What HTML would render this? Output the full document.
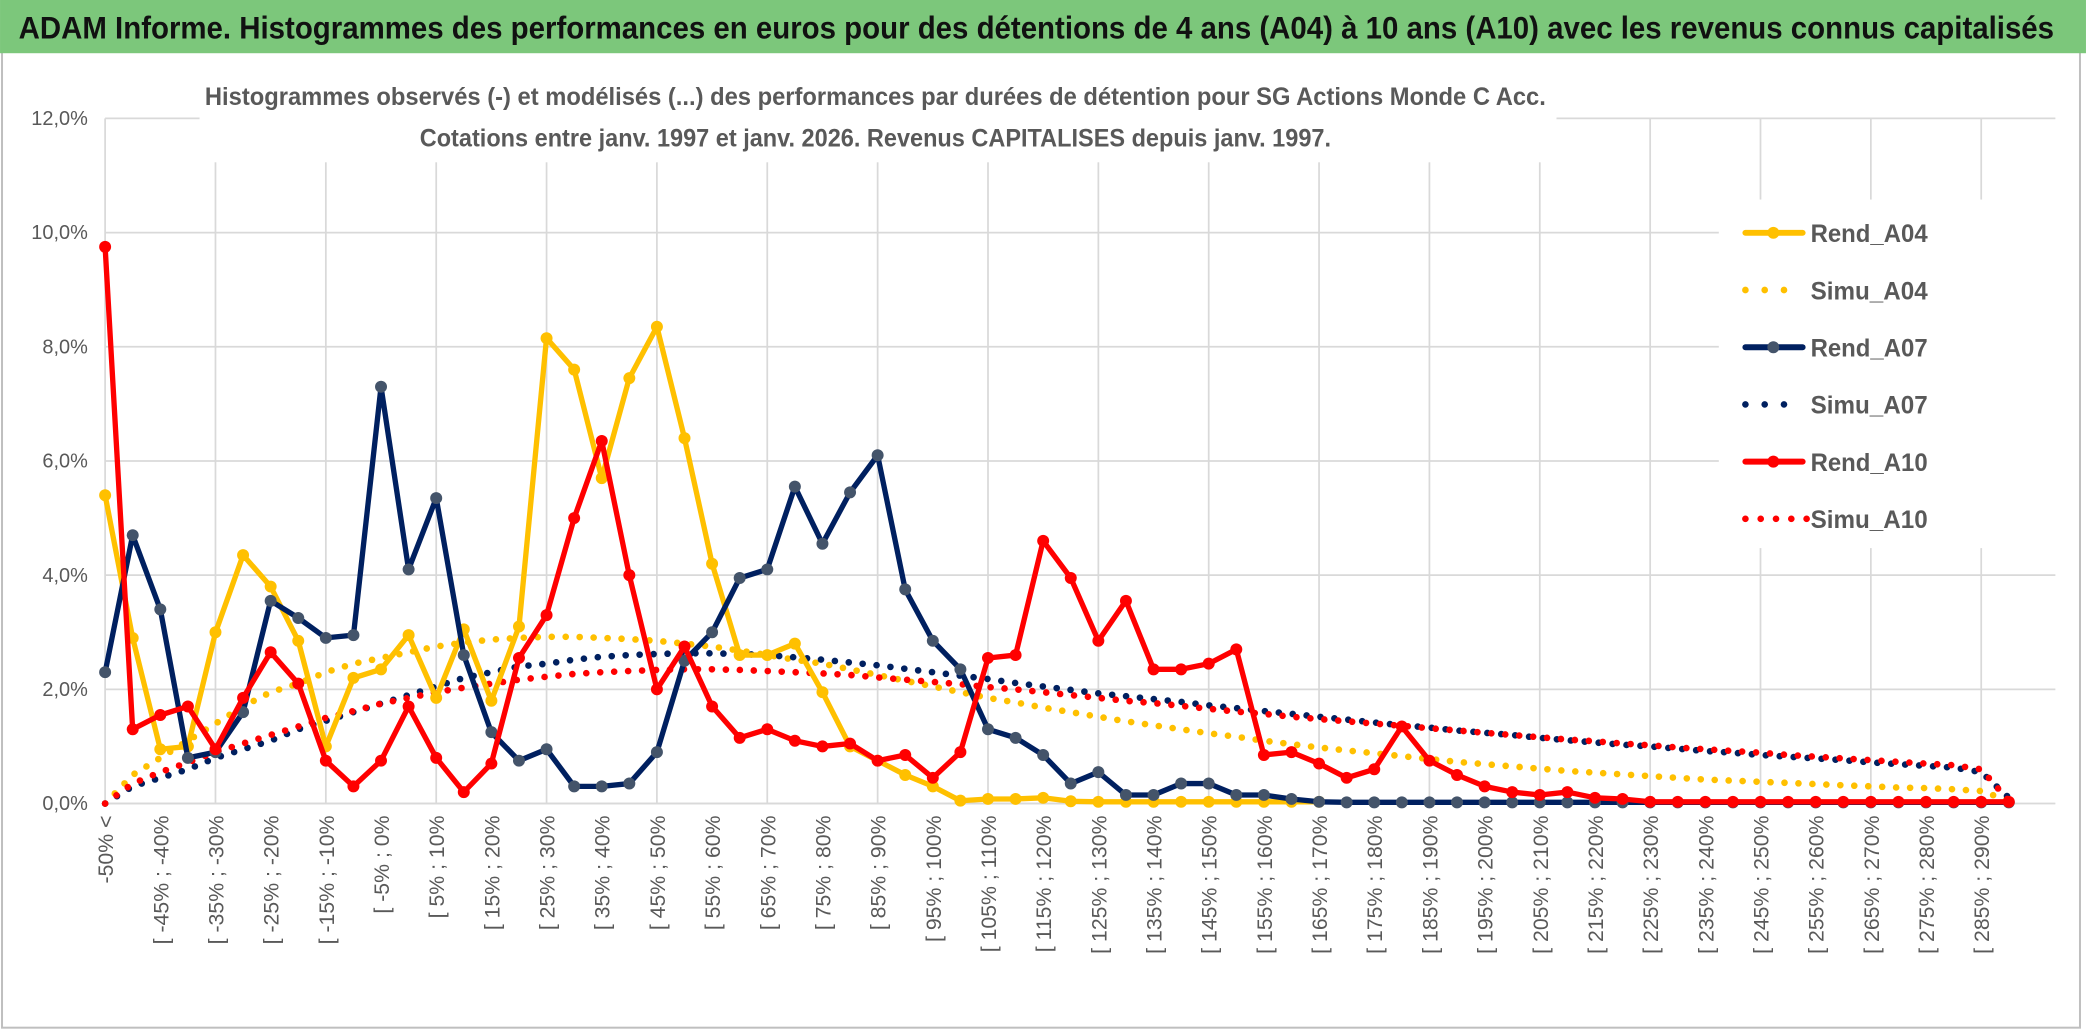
<!DOCTYPE html>
<html><head><meta charset="utf-8"><style>
html,body{margin:0;padding:0;background:#fff;}
svg{display:block;}
text{font-family:"Liberation Sans",sans-serif;}
</style></head><body>
<svg id="chart" width="2086" height="1031" viewBox="0 0 1568 775" xmlns="http://www.w3.org/2000/svg">
<rect x="0" y="0" width="1568" height="775" fill="#fff"/>
<rect x="1.5" y="1.5" width="1562" height="771" fill="none" stroke="#bfbfbf" stroke-width="1.5"/>
<rect x="0" y="0" width="1568" height="40" fill="#7cc77b"/>
<text x="14" y="29" font-size="24" font-weight="bold" fill="#111" textLength="1530" lengthAdjust="spacingAndGlyphs">ADAM Informe. Histogrammes des performances en euros pour des détentions de 4 ans (A04) à 10 ans (A10) avec les revenus connus capitalisés</text>
<g id="grid"></g>
<g id="yaxis"></g>
<g id="xaxis"></g>
<rect x="150" y="52" width="1020" height="70" fill="#fff"/>
<text x="658" y="79" font-size="19" font-weight="bold" fill="#595959" text-anchor="middle" textLength="1008" lengthAdjust="spacingAndGlyphs">Histogrammes observés (-) et modélisés (...) des performances par durées de détention pour SG Actions Monde C Acc.</text>
<text x="658" y="110" font-size="19" font-weight="bold" fill="#595959" text-anchor="middle" textLength="685" lengthAdjust="spacingAndGlyphs">Cotations entre janv. 1997 et janv. 2026. Revenus CAPITALISES depuis janv. 1997.</text>
<g id="series"></g>
<g id="legend"></g>
</svg>
<script>
const categories = ["-50% <"];
for (let k = 1; k <= 69; k++) { const a = -55 + 5*k; categories.push("[ " + a + "% ; " + (a+5) + "%"); }
const yTicks = [0,2,4,6,8,10,12];
const yTickLabels = ["0,0%","2,0%","4,0%","6,0%","8,0%","10,0%","12,0%"];
const rendA04 = [5.4,2.9,0.95,1.0,3.0,4.35,3.8,2.85,1.0,2.2,2.35,2.95,1.85,3.05,1.8,3.1,8.15,7.6,5.7,7.45,8.35,6.4,4.2,2.6,2.6,2.8,1.95,1.0,0.75,0.5,0.3,0.05,0.08,0.08,0.1,0.04,0.03,0.03,0.03,0.03,0.03,0.03,0.03,0.03,0.03,null,null,null,null,null,null,null,null,null,null,null,null,null,null,null,null,null,null,null,null,null,null,null,null,null];
const simuA04 = [0,0.5,0.8,1.1,1.4,1.7,1.95,2.1,2.3,2.45,2.55,2.65,2.75,2.82,2.87,2.9,2.92,2.92,2.9,2.88,2.85,2.8,2.75,2.68,2.6,2.52,2.45,2.35,2.25,2.15,2.05,1.95,1.85,1.77,1.68,1.6,1.52,1.44,1.37,1.3,1.23,1.17,1.1,1.04,0.98,0.93,0.88,0.83,0.78,0.73,0.69,0.65,0.61,0.57,0.54,0.51,0.48,0.45,0.42,0.4,0.38,0.36,0.34,0.32,0.3,0.28,0.27,0.25,0.22,0.05];
const rendA07 = [2.3,4.7,3.4,0.8,0.9,1.6,3.55,3.25,2.9,2.95,7.3,4.1,5.35,2.6,1.25,0.75,0.95,0.3,0.3,0.35,0.9,2.5,3.0,3.95,4.1,5.55,4.55,5.45,6.1,3.75,2.85,2.35,1.3,1.15,0.85,0.35,0.55,0.15,0.15,0.35,0.35,0.15,0.15,0.08,0.03,0.02,0.02,0.02,0.02,0.02,0.02,0.02,0.02,0.02,0.02,0.02,0.02,0.02,0.02,0.02,0.02,0.02,0.02,0.02,0.02,0.02,0.02,0.02,0.02,0.02];
const simuA07 = [0,0.3,0.45,0.6,0.8,0.95,1.1,1.3,1.45,1.6,1.75,1.9,2.05,2.2,2.3,2.4,2.45,2.52,2.57,2.6,2.62,2.63,2.63,2.62,2.6,2.56,2.52,2.47,2.42,2.36,2.3,2.24,2.18,2.11,2.05,1.99,1.93,1.88,1.83,1.78,1.72,1.67,1.62,1.57,1.52,1.47,1.42,1.37,1.33,1.28,1.24,1.2,1.15,1.11,1.07,1.03,1.0,0.96,0.92,0.89,0.85,0.82,0.79,0.76,0.72,0.69,0.66,0.63,0.55,0.1];
const rendA10 = [9.75,1.3,1.55,1.7,0.95,1.85,2.65,2.1,0.75,0.3,0.75,1.7,0.8,0.2,0.7,2.55,3.3,5.0,6.35,4.0,2.0,2.75,1.7,1.15,1.3,1.1,1.0,1.05,0.75,0.85,0.45,0.9,2.55,2.6,4.6,3.95,2.85,3.55,2.35,2.35,2.45,2.7,0.85,0.9,0.7,0.45,0.6,1.35,0.75,0.5,0.3,0.2,0.15,0.2,0.1,0.08,0.03,0.03,0.03,0.03,0.03,0.03,0.03,0.03,0.03,0.03,0.03,0.03,0.03,0.03];
const simuA10 = [0,0.35,0.55,0.72,0.9,1.05,1.2,1.35,1.5,1.62,1.75,1.85,1.95,2.03,2.1,2.17,2.22,2.27,2.3,2.32,2.34,2.35,2.35,2.34,2.32,2.3,2.28,2.25,2.21,2.17,2.13,2.09,2.04,2.0,1.95,1.9,1.85,1.8,1.76,1.71,1.66,1.61,1.57,1.52,1.48,1.44,1.4,1.36,1.32,1.28,1.24,1.2,1.16,1.12,1.09,1.05,1.02,0.98,0.95,0.92,0.89,0.85,0.82,0.79,0.76,0.73,0.7,0.67,0.6,0.05];

const NS = "http://www.w3.org/2000/svg";
const X0 = 79, X1 = 1510, Y0 = 604, Y12 = 89;
function xs(i){ return X0 + (X1 - X0) * i / (categories.length - 1); }
function ys(v){ return Y0 - (Y0 - Y12) * v / 12; }
function mk(tag, attrs, parent){ const e = document.createElementNS(NS, tag); for (const k in attrs) e.setAttribute(k, attrs[k]); parent.appendChild(e); return e; }

const grid = document.getElementById('grid');
yTicks.forEach((t, i) => {
  const l = mk('line', {x1: X0, x2: 1545, y1: ys(t), y2: ys(t), stroke: '#d9d9d9', 'stroke-width': 1.3}, grid);
  
  
});
for (let i = 0; i <= categories.length - 1; i += 4) {
  const l = mk('line', {x1: xs(i), x2: xs(i), y1: Y12, y2: Y0, stroke: '#d9d9d9', 'stroke-width': 1.3}, grid);
  
  
}
const ya = document.getElementById('yaxis');
yTicks.forEach((t, i) => {
  const tx = mk('text', {x: 66, y: ys(t) + 5, 'font-size': 15, fill: '#595959', 'text-anchor': 'end'}, ya);
  tx.textContent = yTickLabels[i];
  
  
});
const xa = document.getElementById('xaxis');
const axl = mk('line', {x1: X0, x2: X1, y1: Y0, y2: Y0, stroke: '#d9d9d9', 'stroke-width': 1.3}, xa);


categories.forEach((c, i) => {
  if (i % 2) return;
  const x = xs(i) + 6, y = 613;
  const tx = mk('text', {x: x, y: y, 'font-size': 16, fill: '#595959', 'text-anchor': 'end', transform: 'rotate(-90 ' + x + ' ' + y + ')'}, xa);
  tx.textContent = c;
  
  
});

const sg = document.getElementById('series');
function solid(data, color, mcolor, name){
  const g = mk('g', {}, sg);
  
  
  let d = '', started = false;
  data.forEach((v, i) => { if (v === null) return; d += (started ? 'L' : 'M') + xs(i).toFixed(1) + ' ' + ys(v).toFixed(1); started = true; });
  mk('path', {d: d, fill: 'none', stroke: color, 'stroke-width': 4, 'stroke-linejoin': 'round'}, g);
  data.forEach((v, i) => {
    if (v === null) return;
    const c = mk('circle', {cx: xs(i), cy: ys(v), r: 4.5, fill: mcolor}, g);
    
    
  });
}
function dotted(data, color, name){
  const g = mk('g', {}, sg);
  
  
  let d = '';
  data.forEach((v, i) => { d += (i ? 'L' : 'M') + xs(i).toFixed(1) + ' ' + ys(v).toFixed(1); });
  mk('path', {d: d, fill: 'none', stroke: color, 'stroke-width': 5, 'stroke-linecap': 'round', 'stroke-dasharray': '0 10.5'}, g);
}
dotted(simuA04, '#FFC000', 'simu-a04-line');
dotted(simuA07, '#002060', 'simu-a07-line');
dotted(simuA10, '#FF0000', 'simu-a10-line');
solid(rendA04, '#FFC000', '#FFC000', 'rend-a04-line');
solid(rendA07, '#002060', '#44546A', 'rend-a07-line');
solid(rendA10, '#FF0000', '#FF0000', 'rend-a10-line');

const lg = document.getElementById('legend');
mk('rect', {x: 1292, y: 150, width: 256, height: 262, fill: '#fff'}, lg);
const legendNames = ['Rend_A04','Simu_A04','Rend_A07','Simu_A07','Rend_A10','Simu_A10'];
const legendColors = ['#FFC000','#FFC000','#002060','#002060','#FF0000','#FF0000'];
legendNames.forEach((n, i) => {
  const y = 175 + i * 43;
  const g = mk('g', {}, lg);
  
  
  if (i % 2 === 0) {
    mk('line', {x1: 1312, x2: 1355, y1: y, y2: y, stroke: legendColors[i], 'stroke-width': 4.5, 'stroke-linecap': 'round'}, g);
    mk('circle', {cx: 1333, cy: y, r: 4.5, fill: i === 2 ? '#44546A' : legendColors[i]}, g);
  } else {
    mk('line', {x1: 1312, x2: (i === 5 ? 1360 : 1350), y1: y, y2: y, stroke: legendColors[i], 'stroke-width': 5, 'stroke-linecap': 'round', 'stroke-dasharray': (i === 5 ? '0 11.5' : '0 14.5')}, g);
  }
  const t = mk('text', {x: 1361, y: y + 7, 'font-size': 19, 'font-weight': 'bold', fill: '#595959', textLength: 88, lengthAdjust: 'spacingAndGlyphs'}, g);
  t.textContent = n;
});
</script>
</body></html>
